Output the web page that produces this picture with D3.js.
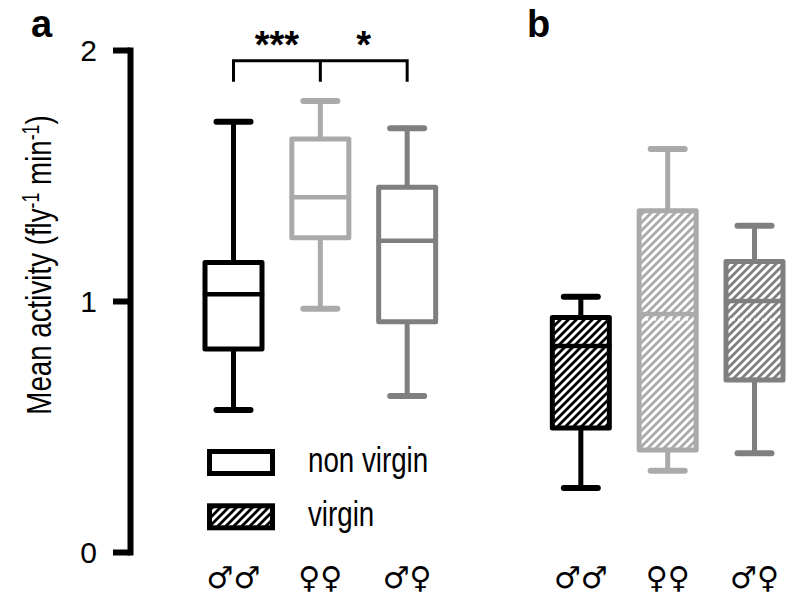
<!DOCTYPE html>
<html>
<head>
<meta charset="utf-8">
<script src="https://cdn.jsdelivr.net/npm/d3@7"></script>
<style>
  body { margin: 0; background: #fff; }
  text { font-family: "Liberation Sans", Arial, sans-serif; }
</style>
</head>
<body>
<div id="chart"></div>
<script>
var W = 800, H = 596;

// groups on the x axis (panel a then panel b, one empty slot between)
var slots = ["a0", "a1", "a2", "gap", "b0", "b1", "b2"];
var sexLabels = ["\u2642\u2642", "\u2640\u2640", "\u2642\u2640"];
var colors = ["#000000", "#aaaaaa", "#7f7f7f"];

// panel a : non virgin
var aLow    = [0.566, 0.969, 0.622];
var aQ1     = [0.809, 1.252, 0.917];
var aMedian = [1.027, 1.413, 1.240];
var aQ3     = [1.153, 1.645, 1.453];
var aHigh   = [1.714, 1.797, 1.688];

// panel b : virgin
var bLow    = [0.255, 0.324, 0.393];
var bQ1     = [0.494, 0.406, 0.685];
var bMedian = [0.821, 0.948, 1.000];
var bQ3     = [0.934, 1.360, 1.157];
var bHigh   = [1.017, 1.606, 1.300];

var yTicks = [0, 1, 2];
var bracketLow = 1.874, bracketHigh = 1.957;
var seamValue = 0.926;

var svg = d3.select("#chart").append("svg")
    .attr("width", W)
    .attr("height", H)
    .style("background", "#fff");

var y = d3.scaleLinear().domain([0, 2]).range([552, 50]);
var x = d3.scalePoint().domain(slots).range([233.5, 754.5]);

// hatch patterns, one per colour
var defs = svg.append("defs");
colors.forEach(function(c, i) {
  var p = defs.append("pattern")
      .attr("id", "hatch" + i)
      .attr("patternUnits", "userSpaceOnUse")
      .attr("width", 8)
      .attr("height", 8);
  p.append("path")
      .attr("d", "M-2,2 l4,-4 M0,8 l8,-8 M6,10 l4,-4")
      .style("stroke", c)
      .style("stroke-width", 2.8);
});

// y axis
var yAxis = d3.axisLeft(y).tickValues(yTicks).tickSize(17).tickSizeOuter(0).tickPadding(16)
    .tickFormat(d3.format("d"));
var ga = svg.append("g").attr("transform", "translate(130,0)").call(yAxis);
ga.select(".domain").style("stroke-width", 6).style("stroke-linecap", "square");
ga.selectAll(".tick line").style("stroke-width", 6);
ga.selectAll(".tick text").style("font-size", "30px").style("font-family", "Liberation Sans, Arial, sans-serif")
    .attr("dy", "0.36em");

// y label (narrow text)
var yl = svg.append("text")
    .attr("transform", "translate(51,265) rotate(-90) scale(0.77,1)")
    .attr("text-anchor", "middle")
    .style("font-size", "36px");
yl.append("tspan").text("Mean activity (fly");
yl.append("tspan").attr("baseline-shift", "super").style("font-size", "23px").text("-1");
yl.append("tspan").text(" min");
yl.append("tspan").attr("baseline-shift", "super").style("font-size", "23px").text("-1");
yl.append("tspan").text(")");

function drawBoxes(keys, low, q1, med, q3, high, hatched) {
  var bw = 57, cw = 34;
  keys.forEach(function(k, i) {
    var cx = x(k), c = colors[i];
    var g = svg.append("g").style("stroke", c).style("fill", "none")
        .style("stroke-linecap", "round").style("stroke-linejoin", "round");
    g.append("line").attr("x1", cx).attr("x2", cx).attr("y1", y(high[i])).attr("y2", y(q3[i]))
        .style("stroke-width", 5);
    g.append("line").attr("x1", cx).attr("x2", cx).attr("y1", y(q1[i])).attr("y2", y(low[i]))
        .style("stroke-width", 5);
    g.append("line").attr("x1", cx - cw / 2).attr("x2", cx + cw / 2).attr("y1", y(high[i])).attr("y2", y(high[i]))
        .style("stroke-width", 6);
    g.append("line").attr("x1", cx - cw / 2).attr("x2", cx + cw / 2).attr("y1", y(low[i])).attr("y2", y(low[i]))
        .style("stroke-width", 6);
    g.append("rect").attr("x", cx - bw / 2).attr("y", y(q3[i]))
        .attr("width", bw).attr("height", y(q1[i]) - y(q3[i]))
        .style("fill", hatched ? "url(#hatch" + i + ")" : "#fff")
        .style("stroke-width", 5);
    if (hatched && seamValue < q3[i] && seamValue > q1[i] && i > 0) {
      g.append("line").attr("x1", cx - bw / 2 + 4).attr("x2", cx + bw / 2 - 4)
          .attr("y1", y(seamValue)).attr("y2", y(seamValue))
          .style("stroke", "#fff").style("stroke-width", 2).style("stroke-linecap", "butt")
          .style("stroke-dasharray", "5,3");
    }
    g.append("line").attr("x1", cx - bw / 2).attr("x2", cx + bw / 2).attr("y1", y(med[i])).attr("y2", y(med[i]))
        .style("stroke-width", 4.5);
  });
}
drawBoxes(["a0", "a1", "a2"], aLow, aQ1, aMedian, aQ3, aHigh, false);
drawBoxes(["b0", "b1", "b2"], bLow, bQ1, bMedian, bQ3, bHigh, true);

// significance bracket
var by0 = y(bracketLow), by1 = y(bracketHigh);
svg.append("path")
    .attr("d", "M" + x("a0") + "," + by0 + "V" + by1 + "H" + x("a2") + "V" + by0 +
               "M" + x("a1") + "," + by1 + "V" + by0)
    .style("fill", "none").style("stroke", "#000").style("stroke-width", 3);
svg.append("text").attr("x", (x("a0") + x("a1")) / 2).attr("y", 58)
    .attr("text-anchor", "middle").style("font-size", "38px").style("font-weight", "bold").text("***");
svg.append("text").attr("x", (x("a1") + x("a2")) / 2).attr("y", 58)
    .attr("text-anchor", "middle").style("font-size", "38px").style("font-weight", "bold").text("*");

// x labels (sex symbols)
["a", "b"].forEach(function(p) {
  [0, 1, 2].forEach(function(i) {
    svg.append("text").attr("x", x(p + i)).attr("y", 588)
        .attr("text-anchor", "middle")
        .style("font-family", "DejaVu Sans, sans-serif")
        .style("font-weight", "bold")
        .style("font-size", "30px")
        .text(sexLabels[i]);
  });
});

// panel letters
svg.append("text").attr("x", 31).attr("y", 37).style("font-size", "38px").style("font-weight", "bold").text("a");
svg.append("text").attr("x", 527).attr("y", 37).style("font-size", "38px").style("font-weight", "bold").text("b");

// legend
var legendItems = ["non virgin", "virgin"];
var legendTop = [451.5, 505.8];
legendItems.forEach(function(t, i) {
  svg.append("rect").attr("x", 209.5).attr("y", legendTop[i]).attr("width", 63).attr("height", 22)
      .style("fill", i === 0 ? "#fff" : "url(#hatch0)")
      .style("stroke", "#000").style("stroke-width", 5);
  svg.append("text").attr("transform", "translate(308," + (legendTop[i] + 20) + ") scale(0.77,1)")
      .style("font-size", "36px").text(t);
});
</script>
</body>
</html>
